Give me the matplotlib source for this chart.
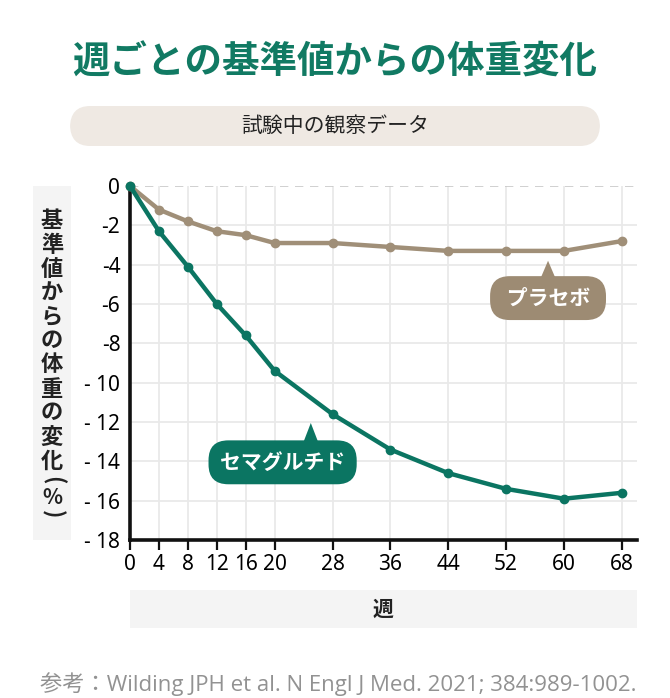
import numpy as np
import matplotlib; matplotlib.use('Agg')
import matplotlib.pyplot as plt
import matplotlib.patches as patches

plt.rcParams['font.family'] = ['Noto Sans CJK JP', 'DejaVu Sans']
LATIN = ['Noto Sans', 'Noto Sans CJK JP']
FOOT = ['Open Sans', 'Noto Sans CJK JP']

# --- Donnees ---
weeks = [0, 4, 8, 12, 16, 20, 28, 36, 44, 52, 60, 68]
sema = [0, -2.3, -4.1, -6.0, -7.6, -9.4, -11.6, -13.4, -14.6, -15.4, -15.9, -15.6]
placebo = [0, -1.2, -1.8, -2.3, -2.5, -2.9, -2.9, -3.1, -3.3, -3.3, -3.3, -2.8]
yticks = [0, -2, -4, -6, -8, -10, -12, -14, -16, -18]
ytick_labels = ['0', '-2', '-4', '-6', '-8', '- 10', '- 12', '- 14', '- 16', '- 18']

GREEN = '#0b7562'
BROWN = '#a08f78'
TITLE = '#117a63'

W, H = 670, 698
fig = plt.figure(figsize=(W/100, H/100), dpi=100)

def fx(px): return px / W
def fy(py): return 1 - py / H

ax = fig.add_axes([fx(130), fy(540), fx(637) - fx(130), fy(186) - fy(540)])
ax.set_xlim(0, 70.1)
ax.set_ylim(-18, 0)

# grille
for w in weeks:
    ax.axvline(w, color='#e9e9e9', lw=1.3, zorder=0)
for y in yticks[1:]:
    ax.axhline(y, color='#e9e9e9', lw=1.3, zorder=0)
ax.axhline(0, color='#c8c8c8', lw=1.2, ls=(0, (5, 4)), zorder=0)

ax.plot(weeks, placebo, color=BROWN, lw=3.2, marker='o', ms=6, zorder=3, clip_on=False)
ax.plot(weeks, sema, color=GREEN, lw=3.2, marker='o', ms=6, zorder=4, clip_on=False)

for s in ['top', 'right']:
    ax.spines[s].set_visible(False)
for s in ['left', 'bottom']:
    ax.spines[s].set_linewidth(2.6)
    ax.spines[s].set_color('#111111')
ax.set_xticks(weeks)
ax.set_xticklabels([str(w) for w in weeks], fontsize=15, family=LATIN)
ax.set_yticks(yticks)
ax.set_yticklabels(ytick_labels, fontsize=15, family=LATIN)
ax.tick_params(axis='x', length=7, width=1.6, pad=3, color='#111111')
ax.tick_params(axis='y', length=0, pad=7)

# --- Etiquettes (bulles) ---
def bulle(x, y, txt, fc, tip_x, tip_dy, half_w):
    ax.text(x, y, txt, ha='center', va='center', fontsize=15, fontweight='bold',
            color='white', zorder=6,
            bbox=dict(boxstyle='round,pad=0.55,rounding_size=0.95', fc=fc, ec='none'))
    top = y + 0.95
    ax.add_patch(plt.Polygon([[tip_x - half_w, top], [tip_x + half_w, top], [tip_x, top + tip_dy]],
                             closed=True, fc=fc, ec='none', zorder=5, clip_on=False))

bulle(21.1, -14.05, 'セマグルチド', GREEN, 25.0, 1.05, 1.1)
bulle(57.8, -5.7, ' プラセボ ', '#9d8b73', 57.8, 0.95, 1.1)

# --- Titre et sous-titre ---
fig.text(0.5, fy(62), '週ごとの基準値からの体重変化', ha='center', va='center',
         fontsize=27, fontweight='bold', color=TITLE)
fig.add_artist(patches.FancyBboxPatch((fx(70), fy(146)), fx(600) - fx(70), fy(106) - fy(146),
               boxstyle='round,pad=0,rounding_size=0.03', transform=fig.transFigure,
               fc='#efe9e3', ec='none', mutation_aspect=H / W))
fig.text(0.5, fy(126), '試験中の観察データ', ha='center', va='center', fontsize=15, color='#222222')

# --- Label axe Y (vertical) ---
fig.add_artist(patches.Rectangle((fx(33), fy(540)), fx(71) - fx(33), fy(186) - fy(540),
               transform=fig.transFigure, fc='#f4f4f4', ec='none', zorder=0))
ylab = list('基準値からの体重の変化')
for i, c in enumerate(ylab):
    fig.text(fx(52), fy(221 + i * 24), c, ha='center', va='center', fontsize=16,
             fontweight='bold', color='#222222')
fig.text(fx(52), fy(480), '(', ha='center', va='center', fontsize=16, rotation=-90,
         fontweight='bold', color='#222222')
fig.text(fx(52), fy(497), '%', ha='center', va='center', fontsize=15,
         fontweight='bold', color='#222222')
fig.text(fx(52), fy(514), ')', ha='center', va='center', fontsize=16, rotation=-90,
         fontweight='bold', color='#222222')

# --- Label axe X ---
fig.add_artist(patches.Rectangle((fx(130), fy(628)), fx(637) - fx(130), fy(590) - fy(628),
               transform=fig.transFigure, fc='#f4f4f4', ec='none', zorder=0))
fig.text(fx(383), fy(609), '週', ha='center', va='center', fontsize=15,
         fontweight='bold', color='#222222')

# --- Source ---
fig.text(fx(637), fy(684), '参考：Wilding JPH et al. N Engl J Med. 2021; 384:989-1002.',
         ha='right', va='center', fontsize=16, color='#929292', family=FOOT)

fig.savefig('out.png', dpi=100)
